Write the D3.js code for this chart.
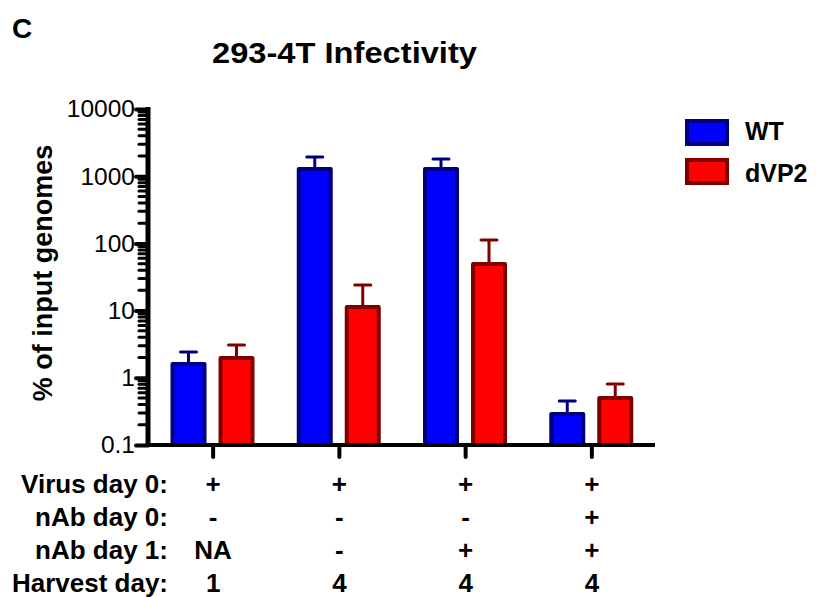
<!DOCTYPE html>
<html><head><meta charset="utf-8">
<script src="https://cdn.jsdelivr.net/npm/d3@7"></script>
<style>body{margin:0;background:#fff;} svg{display:block;font-family:Arial,"Liberation Sans",sans-serif;}</style>
</head><body>
<svg id="c" width="816" height="597"></svg>
<script>
const groups = ["g1","g2","g3","g4"];
const series = ["WT","dVP2"];
const wtValues = [1.72, 1371, 1371, 0.31];
const wtErrors = [2.42, 1930, 1800, 0.45];
const dvp2Values = [2.11, 12.1, 52.9, 0.536];
const dvp2Errors = [3.08, 24.0, 112, 0.81];
const yTicks = [0.1, 1, 10, 100, 1000, 10000];
const yTickLabels = ["0.1","1","10","100","1000","10000"];
const rowLabels = ["Virus day 0:","nAb day 0:","nAb day 1:","Harvest day:"];
const rowVirusDay0 = ["+","+","+","+"];
const rowNAbDay0 = ["-","-","-","+"];
const rowNAbDay1 = ["NA","-","+","+"];
const rowHarvestDay = ["1","4","4","4"];

const fills = {WT:"#0000ff", dVP2:"#ff0000"};
const strokes = {WT:"#000080", dVP2:"#800000"};

const svg = d3.select("#c");
const y = d3.scaleLog().domain([0.1, 10000]).range([445, 109]);
const x = d3.scaleBand().domain(groups).range([150, 655]);
const xs = d3.scaleBand().domain(series).range([20.5, 104.5]).paddingInner(0.25);

// title & panel letter
svg.append("text").attr("x",12).attr("y",38).attr("font-size",28).attr("font-weight","bold").text("C");
svg.append("text").attr("x",212).attr("y",63).attr("font-size",29).attr("font-weight","bold")
  .attr("textLength",265).attr("lengthAdjust","spacingAndGlyphs").text("293-4T Infectivity");

// y axis
const minor = [];
for (let e=-1;e<4;e++) for (let m=2;m<=9;m++) minor.push(m*Math.pow(10,e));
svg.append("g").selectAll("line").data(minor).join("line")
  .attr("x1",139).attr("x2",148).attr("y1",d=>y(d)).attr("y2",d=>y(d))
  .attr("stroke","#000").attr("stroke-width",3).attr("stroke-linecap","round");
const yAxis = d3.axisLeft(y).tickValues(yTicks).tickFormat((d,i)=>yTickLabels[i]).tickSize(12).tickPadding(1);
const ga = svg.append("g").attr("transform","translate(148,0)").call(yAxis);
ga.select(".domain").remove();
ga.selectAll(".tick line").attr("stroke","#000").attr("stroke-width",4).attr("stroke-linecap","round");
ga.selectAll(".tick text").attr("font-size",24.5).attr("font-family","Arial,'Liberation Sans',sans-serif").attr("fill","#000");
svg.append("line").attr("x1",148).attr("x2",148).attr("y1",107).attr("y2",447).attr("stroke","#000").attr("stroke-width",5);

// x axis
svg.append("g").selectAll("line").data(groups).join("line")
  .attr("x1",d=>x(d)+x.bandwidth()/2).attr("x2",d=>x(d)+x.bandwidth()/2)
  .attr("y1",445).attr("y2",457).attr("stroke","#000").attr("stroke-width",4).attr("stroke-linecap","round");

// y label
svg.append("text").attr("transform","translate(52,273) rotate(-90)").attr("text-anchor","middle")
  .attr("font-size",27).attr("font-weight","bold").text("% of input genomes");

// bars
const data = [];
groups.forEach((g,i)=>{
  data.push({g, s:"WT", v:wtValues[i], e:wtErrors[i]});
  data.push({g, s:"dVP2", v:dvp2Values[i], e:dvp2Errors[i]});
});
const bars = svg.append("g");
bars.selectAll("line.err").data(data).join("line").attr("class","err")
  .attr("x1",d=>x(d.g)+xs(d.s)+xs.bandwidth()/2).attr("x2",d=>x(d.g)+xs(d.s)+xs.bandwidth()/2)
  .attr("y1",d=>y(d.v)).attr("y2",d=>y(d.e)).attr("stroke",d=>strokes[d.s]).attr("stroke-width",3);
bars.selectAll("line.cap").data(data).join("line").attr("class","cap")
  .attr("x1",d=>x(d.g)+xs(d.s)+xs.bandwidth()/2-8).attr("x2",d=>x(d.g)+xs(d.s)+xs.bandwidth()/2+8)
  .attr("y1",d=>y(d.e)).attr("y2",d=>y(d.e)).attr("stroke",d=>strokes[d.s]).attr("stroke-width",3).attr("stroke-linecap","round");
bars.selectAll("rect").data(data).join("rect")
  .attr("x",d=>x(d.g)+xs(d.s)+2).attr("width",xs.bandwidth()-4)
  .attr("y",d=>y(d.v)+2).attr("height",d=>y(0.1)-y(d.v)-2)
  .attr("fill",d=>fills[d.s]).attr("stroke",d=>strokes[d.s]).attr("stroke-width",4).attr("stroke-linejoin","round");
svg.append("line").attr("x1",146).attr("x2",655).attr("y1",445).attr("y2",445).attr("stroke","#000").attr("stroke-width",4);

// legend
const leg = svg.append("g");
series.forEach((s,i)=>{
  leg.append("rect").attr("x",687).attr("y",121+i*39).attr("width",40).attr("height",23)
    .attr("fill",fills[s]).attr("stroke",strokes[s]).attr("stroke-width",4);
  leg.append("text").attr("x",745).attr("y",140+i*42).attr("font-size",25).attr("font-weight","bold").text(s);
});

// condition table
const rows = [rowVirusDay0,rowNAbDay0,rowNAbDay1,rowHarvestDay];
const rowY = [493,526,559,592];
const tbl = svg.append("g").attr("font-size",26).attr("font-weight","bold");
rowLabels.forEach((l,i)=>{
  tbl.append("text").attr("x",168).attr("y",rowY[i]).attr("text-anchor","end").text(l);
  tbl.selectAll(null).data(rows[i]).join("text")
    .attr("x",(d,j)=>x(groups[j])+x.bandwidth()/2).attr("y",rowY[i]).attr("text-anchor","middle").text(d=>d);
});
</script>
</body></html>
